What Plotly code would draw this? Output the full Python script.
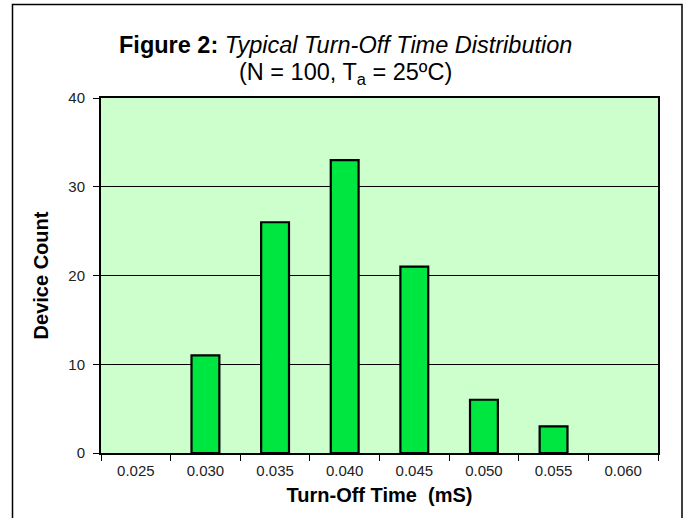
import plotly.graph_objects as go

categories = ["0.025", "0.030", "0.035", "0.040", "0.045", "0.050", "0.055", "0.060"]
counts = [0, 11, 26, 33, 21, 6, 3, 0]
y_ticks = [0, 10, 20, 30, 40]

W, H = 688, 518
L, R, T, B = 101, 30, 98, 65
pw, ph = W - L - R, H - T - B

def px_x(px):
    return (px - L) / pw

def px_y(py):
    return (H - B - py) / ph

fig = go.Figure()
fig.add_trace(go.Bar(
    x=categories, y=counts,
    marker=dict(color="#00E640",
                line=dict(color="black", width=[2.2 if v > 0 else 0 for v in counts])),
    width=0.4,
    hoverinfo="x+y",
))

font = "Liberation Sans, Arial, sans-serif"
fig.update_layout(
    width=W, height=H,
    margin=dict(l=L, r=R, t=T, b=B),
    paper_bgcolor="white",
    plot_bgcolor="#CCFFCC",
    showlegend=False,
    font=dict(family=font, color="#222"),
    xaxis=dict(
        type="category",
        tickson="boundaries",
        ticks="outside", ticklen=6, tickwidth=1.2, tickcolor="black",
        ticklabelstandoff=3,
        showline=True, linecolor="black", linewidth=2, mirror=True,
        showgrid=False,
        tickfont=dict(size=15, family=font, color="#222"),
        title=dict(text="<b>Turn-Off Time  (mS)</b>", font=dict(size=20, family=font, color="black"), standoff=10),
        range=[-0.5, 7.5],
    ),
    yaxis=dict(
        range=[0, 40],
        tickvals=y_ticks,
        ticks="outside", ticklen=6, tickwidth=1.2, tickcolor="black",
        ticklabelstandoff=5,
        showline=True, linecolor="black", linewidth=2, mirror=True,
        showgrid=True, gridcolor="black", gridwidth=1,
        zeroline=False,
        tickfont=dict(size=15, family=font, color="#222"),
        title=dict(text="<b>Device Count</b>", font=dict(size=20, family=font, color="black"), standoff=14),
    ),
)

# two-line title as annotations
fig.add_annotation(
    text="<b>Figure 2:</b> <i>Typical Turn-Off Time Distribution</i>",
    xref="paper", yref="paper", x=px_x(345), y=px_y(45),
    xanchor="center", yanchor="middle", showarrow=False,
    font=dict(size=23.5, family=font, color="black"),
)
fig.add_annotation(
    text="(N = 100, T<sub>a</sub> = 25ºC)",
    xref="paper", yref="paper", x=px_x(345), y=px_y(73),
    xanchor="center", yanchor="middle", showarrow=False,
    font=dict(size=23.5, family=font, color="black"),
)

# outer chart frame (left, top, right edges)
fig.add_shape(
    type="path",
    xref="paper", yref="paper",
    path=f"M {px_x(12.5)} {px_y(530)} L {px_x(12.5)} {px_y(4.5)} L {px_x(682)} {px_y(4.5)} L {px_x(682)} {px_y(530)}",
    line=dict(color="black", width=1.5),
    layer="above",
)

fig.write_html(
    "out.html",
    config={"displayModeBar": False},
    post_script="document.body.style.margin='0';document.body.style.overflow='hidden';",
)
